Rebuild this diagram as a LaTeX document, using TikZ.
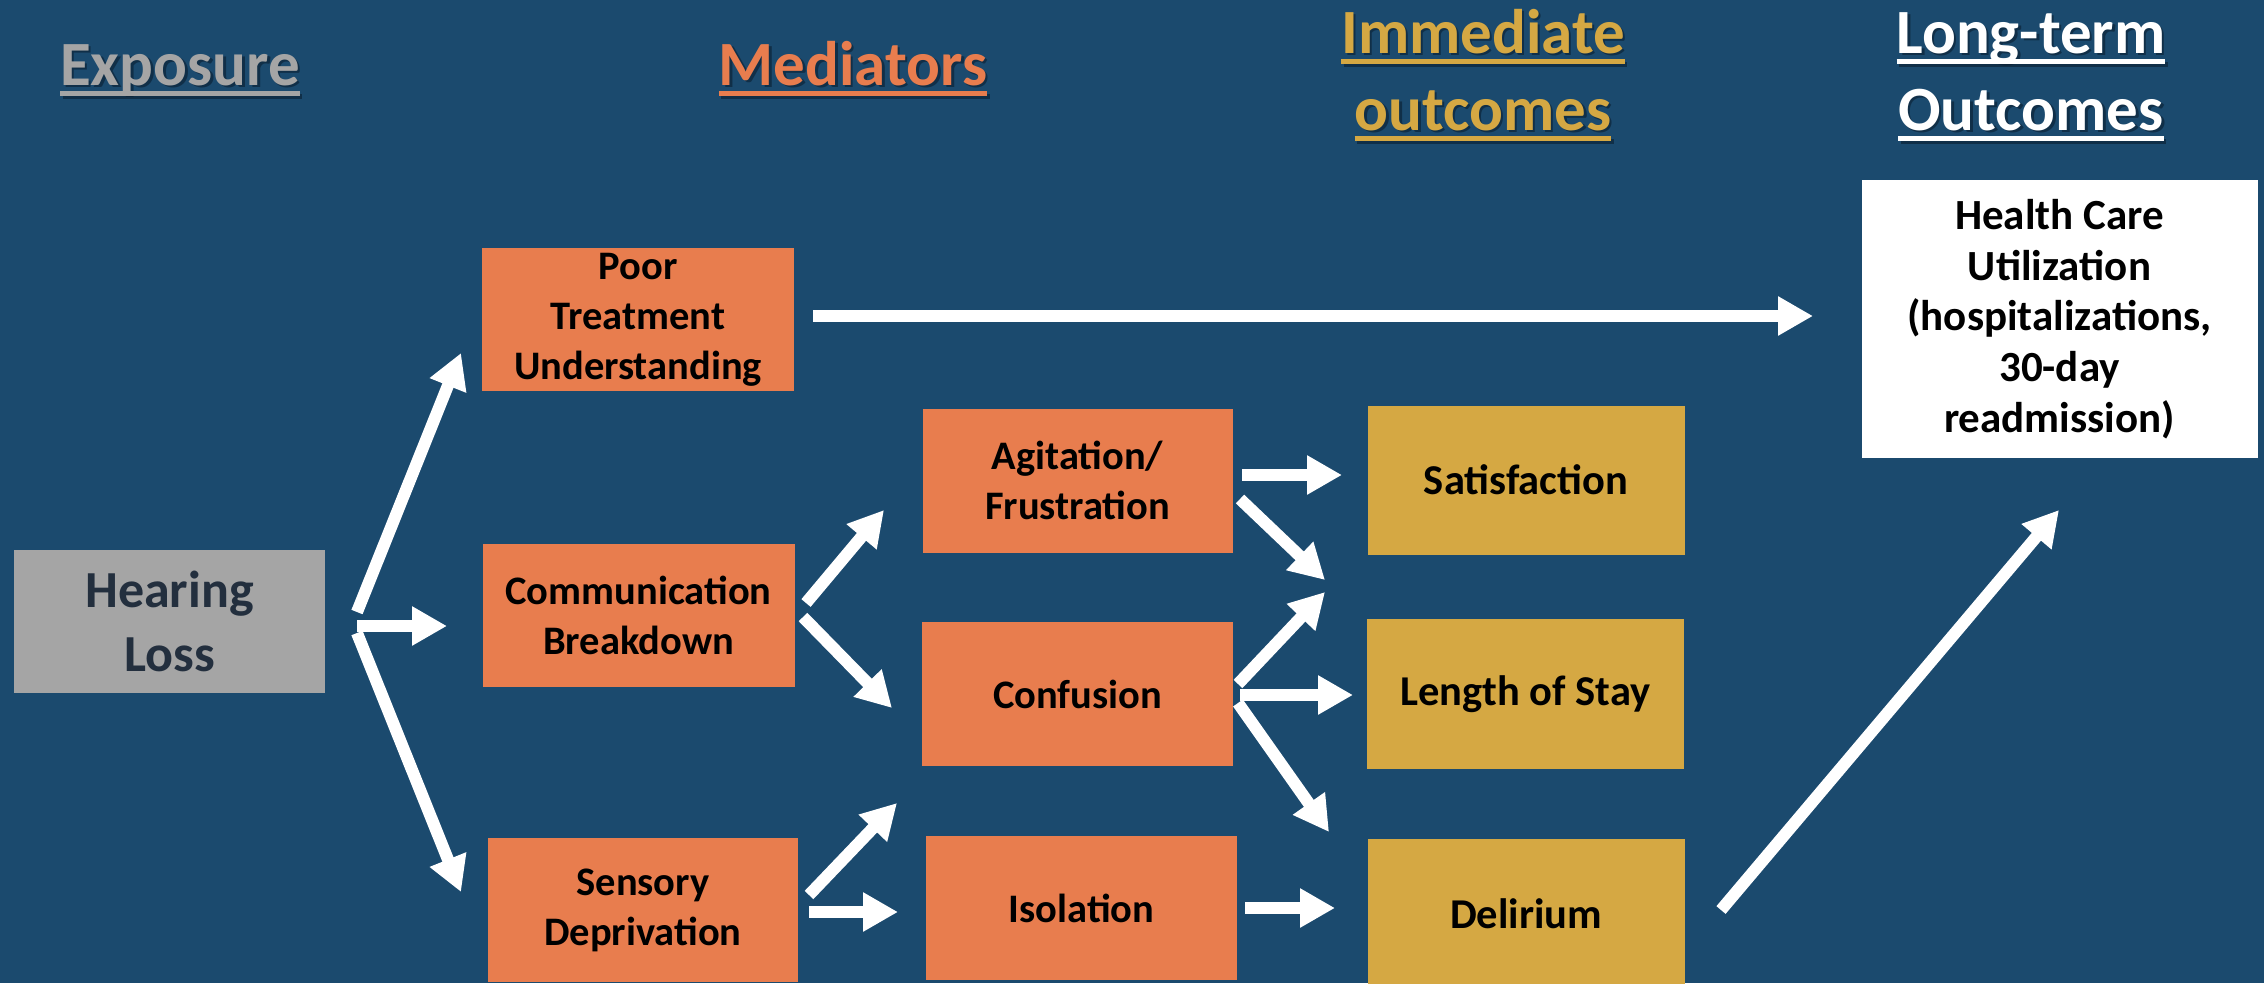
\documentclass[tikz,border=0pt]{standalone}
\usepackage{fontspec}
\setmainfont{Carlito}
\usetikzlibrary{arrows.meta}
\definecolor{bg}{RGB}{27,74,110}
\definecolor{orng}{RGB}{232,125,78}
\definecolor{gold}{RGB}{213,168,67}
\definecolor{grayb}{RGB}{165,165,165}
\definecolor{hltext}{RGB}{35,47,62}
\definecolor{shade}{RGB}{10,30,48}
\newcommand\hdrul[1]{\setbox0\hbox{#1}\rlap{\rule[-11pt]{\wd0}{5pt}}\box0}
\begin{document}
\begin{tikzpicture}[x=1pt,y=-1pt,
  box/.style={inner sep=0pt, align=center, font=\fontsize{40.5}{50}\selectfont\bfseries, text=black},
  medbox/.style={box, fill=orng, minimum width=311pt, minimum height=144pt},
  outbox/.style={box, fill=gold, minimum width=317pt, minimum height=149pt,
                 font=\fontsize{42.5}{50}\selectfont\bfseries},
  hdr/.style={inner sep=0pt, anchor=base, font=\fontsize{63}{77}\selectfont\bfseries},
  hdrshadow/.style={hdr, text=shade, text opacity=0.6},
  blockarrow/.style={white, line width=12pt, -{Triangle[length=35pt,width=37pt]}},
]
\useasboundingbox (0,0) rectangle (2264,983);
\clip (0,0) rectangle (2264,983);
\fill[bg] (0,0) rectangle (2264,983);

% header shadows
\node[hdrshadow] (hexpS) at (182.5,87.5) {\hdrul{Exposure}};
\node[hdrshadow] (hmedS) at (855.5,87.5) {\hdrul{Mediators}};
\node[hdrshadow] (himm1S) at (1485.5,55.5) {\hdrul{Immediate}};
\node[hdrshadow] (himm2S) at (1485.5,132.5) {\hdrul{outcomes}};
\node[hdrshadow] (hlong1S) at (2033.5,55.5) {\hdrul{Long-term}};
\node[hdrshadow] (hlong2S) at (2033.5,132.5) {\hdrul{Outcomes}};
% headers
\node[hdr, text=grayb] (hexp) at (180,85) {\hdrul{Exposure}};
\node[hdr, text=orng] (hmed) at (853,85) {\hdrul{Mediators}};
\node[hdr, text=gold] (himm1) at (1483,53) {\hdrul{Immediate}};
\node[hdr, text=gold] (himm2) at (1483,130) {\hdrul{outcomes}};
\node[hdr, text=white] (hlong1) at (2031,53) {\hdrul{Long-term}};
\node[hdr, text=white] (hlong2) at (2031,130) {\hdrul{Outcomes}};

% boxes
\node[box, fill=grayb, minimum width=311pt, minimum height=143pt, text=hltext,
      font=\fontsize{52}{64}\selectfont\bfseries] (hl) at (169.5,621.5) {Hearing\\Loss};
\node[medbox, minimum width=312pt, minimum height=143pt] (ptu) at (638,319.5) {Poor\\Treatment\\Understanding};
\node[medbox, minimum width=312pt, minimum height=143pt] (cb) at (638.5,615) {Communication\\Breakdown};
\node[medbox, minimum width=310pt] (sd) at (643,910) {Sensory\\Deprivation};
\node[medbox, minimum width=310pt] (af) at (1077.5,480.5) {Agitation/\\Frustration};
\node[medbox] (conf) at (1077.5,694) {Confusion};
\node[medbox] (iso) at (1081.5,908) {Isolation};
\node[outbox] (sat) at (1526,480) {Satisfaction};
\node[outbox, minimum height=150pt] (los) at (1525.5,694) {Length of Stay};
\node[outbox, minimum height=150pt] (del) at (1526,914) {Delirium};
\node[box, fill=white, minimum width=396pt, minimum height=278pt,
      font=\fontsize{43}{50.7}\selectfont\bfseries] (hcu) at (2059.5,319)
  {Health Care\\Utilization\\(hospitalizations,\\30-day\\readmission)};

% arrow end points
\coordinate (hlptuS) at (357,612);  \coordinate (hlptuE) at (461,353);
\coordinate (hlcbS) at (357,626);   \coordinate (hlcbE) at (447,626);
\coordinate (hlsdS) at (357,633);   \coordinate (hlsdE) at (461,892);
\coordinate (ptuhcuS) at (813,316); \coordinate (ptuhcuE) at (1813,316);
\coordinate (cbafS) at (806,603);   \coordinate (cbafE) at (884,510);
\coordinate (cbconfS) at (803,617); \coordinate (cbconfE) at (892,708);
\coordinate (sdconfS) at (809,895); \coordinate (sdconfE) at (897,803);
\coordinate (sdisoS) at (809,912);  \coordinate (sdisoE) at (898,912);
\coordinate (afsatS) at (1242,475); \coordinate (afsatE) at (1342,475);
\coordinate (aflosS) at (1240,499); \coordinate (aflosE) at (1325,580);
\coordinate (confupS) at (1238,684); \coordinate (confupE) at (1325,592);
\coordinate (conflosS) at (1240,695); \coordinate (conflosE) at (1353,695);
\coordinate (confdelS) at (1238,703); \coordinate (confdelE) at (1329,832);
\coordinate (isodelS) at (1245,908); \coordinate (isodelE) at (1335,908);
\coordinate (delhcuS) at (1721,910); \coordinate (delhcuE) at (2059,510);

\draw[blockarrow] (hlptuS) -- (hlptuE);
\draw[blockarrow] (hlcbS) -- (hlcbE);
\draw[blockarrow] (hlsdS) -- (hlsdE);
\draw[blockarrow] (ptuhcuS) -- (ptuhcuE);
\draw[blockarrow] (cbafS) -- (cbafE);
\draw[blockarrow] (cbconfS) -- (cbconfE);
\draw[blockarrow] (sdconfS) -- (sdconfE);
\draw[blockarrow] (sdisoS) -- (sdisoE);
\draw[blockarrow] (afsatS) -- (afsatE);
\draw[blockarrow] (aflosS) -- (aflosE);
\draw[blockarrow] (confupS) -- (confupE);
\draw[blockarrow] (conflosS) -- (conflosE);
\draw[blockarrow] (confdelS) -- (confdelE);
\draw[blockarrow] (isodelS) -- (isodelE);
\draw[blockarrow] (delhcuS) -- (delhcuE);
\end{tikzpicture}
\end{document}
